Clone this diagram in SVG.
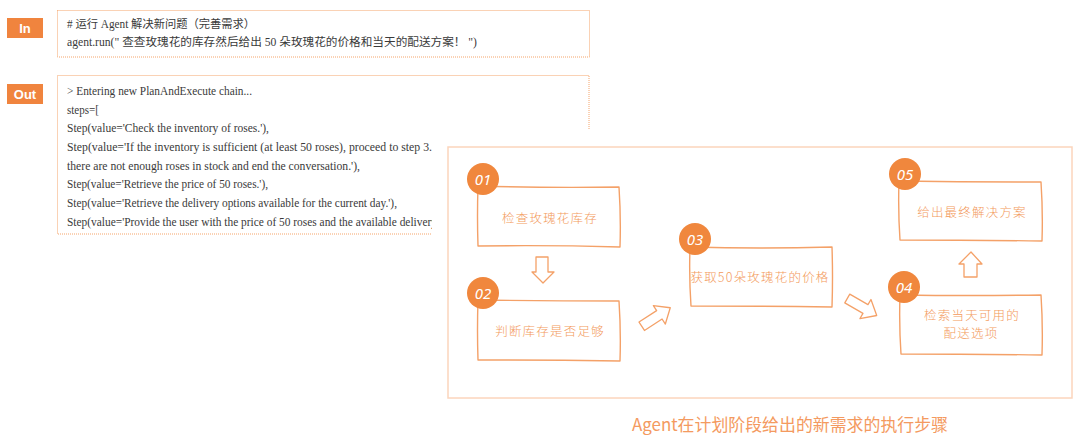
<svg xmlns="http://www.w3.org/2000/svg" width="1080" height="448" viewBox="0 0 1080 448">
<style>
.tag{fill:#F0843E}
.tagt{font-family:"Liberation Sans",Arial,sans-serif;font-weight:bold;font-size:13px;fill:#fff;text-anchor:middle}
.code{fill:none;stroke:#F5A46B;stroke-width:1;stroke-dasharray:1 1}
.ct{font-family:"Liberation Serif","Noto Sans CJK SC",serif;font-size:11.5px;fill:#3a3a3a}
.panel{fill:#fff;stroke:#FCD5BC;stroke-width:1.5}
.box{fill:#fff;stroke:#F4A168;stroke-width:1.4;stroke-linejoin:round}
.circ{fill:#F0873D}
.num{font-family:"Noto Sans","Liberation Sans",sans-serif;font-size:15px;fill:#fff;text-anchor:middle;font-style:italic}
.nt{font-family:"Noto Sans CJK SC",sans-serif;font-size:12.5px;fill:#F39A5C;text-anchor:middle;letter-spacing:1.2px;font-weight:300}
.arr{fill:#fff;stroke:#F4A168;stroke-width:1.3;stroke-linejoin:round}
.cap{font-family:"Noto Sans CJK SC",sans-serif;font-size:17px;fill:#F49A60}
</style>
<defs>
<path id="rarrow" d="M-17,-5 L4,-5 L4,-11 L17,0 L4,11 L4,5 L-17,5 Z"/>
</defs>
<rect width="1080" height="448" fill="#fff"/>

<g id="in-block">
<rect class="tag" x="7" y="18" width="36" height="20"/>
<text class="tagt" x="25" y="33">In</text>
<rect class="code" x="57.5" y="10.5" width="532" height="46.5"/>
<text class="ct" x="67" y="28" textLength="188" lengthAdjust="spacingAndGlyphs"># 运行 Agent 解决新问题（完善需求）</text>
<text class="ct" x="67" y="46" textLength="410" lengthAdjust="spacingAndGlyphs">agent.run(" 查查玫瑰花的库存然后给出 50 朵玫瑰花的价格和当天的配送方案！ ")</text>
</g>

<g id="out-block">
<rect class="tag" x="7" y="84" width="36" height="20"/>
<text class="tagt" x="25" y="99">Out</text>
<rect class="code" x="57.5" y="75.5" width="531.5" height="158.5"/>
<text class="ct" x="67" y="95" textLength="185" lengthAdjust="spacingAndGlyphs">&gt; Entering new PlanAndExecute chain...</text>
<text class="ct" x="67" y="114" textLength="32" lengthAdjust="spacingAndGlyphs">steps=[</text>
<text class="ct" x="67" y="132" textLength="202" lengthAdjust="spacingAndGlyphs">Step(value='Check the inventory of roses.'),</text>
<text class="ct" x="67" y="151" textLength="365" lengthAdjust="spacingAndGlyphs">Step(value='If the inventory is sufficient (at least 50 roses), proceed to step 3.</text>
<text class="ct" x="67" y="170" textLength="293" lengthAdjust="spacingAndGlyphs">there are not enough roses in stock and end the conversation.'),</text>
<text class="ct" x="67" y="188" textLength="201" lengthAdjust="spacingAndGlyphs">Step(value='Retrieve the price of 50 roses.'),</text>
<text class="ct" x="67" y="207" textLength="330" lengthAdjust="spacingAndGlyphs">Step(value='Retrieve the delivery options available for the current day.'),</text>
<text class="ct" x="67" y="226" textLength="370" lengthAdjust="spacingAndGlyphs">Step(value='Provide the user with the price of 50 roses and the available delivery</text>
</g>

<rect x="432" y="130" width="648" height="318" fill="#fff"/>
<rect class="panel" x="448" y="147" width="624" height="251"/>

<g id="node01">
<path class="box" d="M478,186 Q548,188 619,187 Q621,217 620,247 Q549,245 478,246 Q477,216 478,186 Z"/>
<circle class="circ" cx="483" cy="179" r="16"/>
<text class="num" x="483" y="185">01</text>
<text class="nt" x="550" y="223">检查玫瑰花库存</text>
</g>

<g id="node02">
<path class="box" d="M478,300 Q548,301 619,301 Q621,331 620,361 Q549,360 478,360 Q477,330 478,300 Z"/>
<circle class="circ" cx="483" cy="293" r="16"/>
<text class="num" x="483" y="299">02</text>
<text class="nt" x="550" y="336">判断库存是否足够</text>
</g>

<g id="node03">
<path class="box" d="M690,247 Q761,249 832,247 Q833,277 832,307 Q761,306 691,306 Q689,277 690,247 Z"/>
<circle class="circ" cx="695" cy="239" r="16"/>
<text class="num" x="695" y="245">03</text>
<text class="nt" x="760" y="282">获取50朵玫瑰花的价格</text>
</g>

<g id="node04">
<path class="box" d="M900,295 Q970,296 1041,295 Q1043,325 1042,355 Q971,354 901,354 Q899,325 900,295 Z"/>
<circle class="circ" cx="904" cy="287" r="16"/>
<text class="num" x="904" y="293">04</text>
<text class="nt" x="972" y="320">检索当天可用的</text>
<text class="nt" x="971" y="338">配送选项</text>
</g>

<g id="node05">
<path class="box" d="M899,181 Q970,182 1041,182 Q1043,212 1042,241 Q971,240 900,240 Q898,211 899,181 Z"/>
<circle class="circ" cx="905" cy="174" r="16"/>
<text class="num" x="905" y="180">05</text>
<text class="nt" x="972" y="217">给出最终解决方案</text>
</g>

<g id="connectors">
<path class="arr" d="M536,257 L548,257 L548,272 L554,272 L543,283 L532,272 L536,272 Z"/>
<use class="arr" href="#rarrow" transform="translate(656,317) rotate(-33)"/>
<use class="arr" href="#rarrow" transform="translate(862,307) rotate(30)"/>
<path class="arr" d="M964,277 L977,277 L977,264 L982,264 L971,252 L959,264 L964,264 Z"/>
</g>

<text class="cap" x="632" y="431" textLength="316" lengthAdjust="spacingAndGlyphs">Agent在计划阶段给出的新需求的执行步骤</text>
</svg>
